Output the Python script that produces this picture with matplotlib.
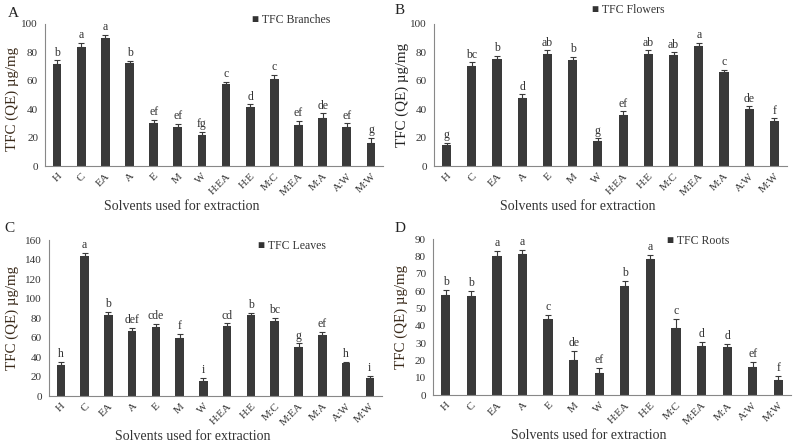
import matplotlib
matplotlib.use("Agg")
import matplotlib.pyplot as plt
import numpy as np

plt.rcParams['font.family'] = ['Liberation Serif', 'DejaVu Serif']

categories = ["H", "C", "EA", "A", "E", "M", "W", "H:EA", "H:E", "M:C", "M:EA", "M:A", "A:W", "M:W"]

branches = [72, 84, 90, 72.5, 30, 27.5, 22, 57.5, 41.5, 61.5, 29, 34, 27.5, 16.5]
branches_err = [2.5, 2.5, 2.5, 1.5, 2.5, 2, 2, 2, 2, 2.5, 3, 3, 2.5, 3.5]
branches_sig = ["b", "a", "a", "b", "ef", "ef", "fg", "c", "d", "c", "ef", "de", "ef", "g"]

flowers = [14.5, 70.5, 75.5, 48, 79, 74.5, 17.5, 36, 79, 78, 84.5, 66, 40.5, 31.5]
flowers_err = [2, 2.5, 2, 2.5, 2.5, 2.5, 2, 2.5, 2.5, 2, 2, 1.5, 1.5, 2]
flowers_sig = ["g", "bc", "b", "d", "ab", "b", "g", "ef", "ab", "ab", "a", "c", "de", "f"]

leaves = [32, 144, 83, 67, 71, 60, 15, 72, 83, 77, 50, 63, 34, 18]
leaves_err = [3, 3, 3, 3, 3, 4, 4, 2.5, 2.5, 3, 4, 3, 1, 3]
leaves_sig = ["h", "a", "b", "def", "cde", "f", "i", "cd", "b", "bc", "g", "ef", "h", "i"]

roots = [57.5, 57, 80.5, 81.5, 44, 20.5, 13, 63, 78.5, 39, 28.5, 27.5, 16, 8.5]
roots_err = [3, 3, 2.5, 2.5, 2.5, 5, 2.5, 3, 2.5, 5, 2, 2, 3, 2.5]
roots_sig = ["b", "b", "a", "a", "c", "de", "ef", "b", "a", "c", "d", "d", "ef", "f"]

panels = [
    dict(letter="A", vals=branches, err=branches_err, sig=branches_sig, label="TFC Branches",
         ymax=100, step=20, rect=[0.0567, 0.626, 0.4257, 0.320],
         letter_xy=(0.010, 0.985), leg=(0.318, 0.968), xlab_x=0.405, ylab=(-0.077, 0.47),
         ylab_color="#3a2a1a"),
    dict(letter="B", vals=flowers, err=flowers_err, sig=flowers_sig, label="TFC Flowers",
         ymax=100, step=20, rect=[0.5466, 0.626, 0.4446, 0.320],
         letter_xy=(0.497, 0.992), leg=(0.745, 0.990), xlab_x=0.408, ylab=(-0.071, 0.5),
         ylab_color="#222222"),
    dict(letter="C", vals=leaves, err=leaves_err, sig=leaves_sig, label="TFC Leaves",
         ymax=160, step=20, rect=[0.0617, 0.108, 0.419, 0.3514],
         letter_xy=(0.005, 0.500), leg=(0.325, 0.460), xlab_x=0.432, ylab=(-0.090, 0.5),
         ylab_color="#3a2a1a"),
    dict(letter="D", vals=roots, err=roots_err, sig=roots_sig, label="TFC Roots",
         ymax=90, step=10, rect=[0.5453, 0.110, 0.451, 0.3514],
         letter_xy=(0.497, 0.500), leg=(0.840, 0.470), xlab_x=0.436, ylab=(-0.070, 0.5),
         ylab_color="#3a2a1a"),
]

bar_color = "#3a3a3a"
text_color = "#333333"

fig = plt.figure(figsize=(7.94, 4.44), dpi=100)

for p in panels:
    ax = fig.add_axes(p["rect"])
    x = np.arange(len(categories))
    ax.bar(x, p["vals"], width=0.36, color=bar_color, zorder=2)
    ax.errorbar(x, p["vals"], yerr=[np.zeros(len(x)), p["err"]], fmt="none",
                ecolor=bar_color, elinewidth=0.8, capsize=2, capthick=0.8, zorder=3)
    off = p["ymax"] * 0.012
    for xi, v, e, s in zip(x, p["vals"], p["err"], p["sig"]):
        ax.text(xi, v + e + off, s, ha="center", va="bottom", fontsize=8.5, color=text_color)
    ax.set_xlim(-0.5, len(categories) - 0.5)
    ax.set_ylim(0, p["ymax"])
    ax.set_yticks(np.arange(0, p["ymax"] + 1, p["step"]))
    ax.set_xticks(x)
    ax.set_xticklabels(categories, rotation=45, ha="right", rotation_mode="anchor", fontsize=8)
    ax.tick_params(axis="y", labelsize=8, length=0, colors=text_color, pad=5)
    ax.tick_params(axis="x", length=0, colors=text_color, pad=4)
    for side in ["top", "right"]:
        ax.spines[side].set_visible(False)
    for side in ["left", "bottom"]:
        ax.spines[side].set_color("#888888")
        ax.spines[side].set_linewidth(0.8)
    ax.set_ylabel("TFC (QE) µg/mg", fontsize=10.8, color=p["ylab_color"])
    ax.yaxis.set_label_coords(*p["ylab"])
    ax.set_xlabel("Solvents used for extraction", fontsize=10, color=text_color, labelpad=2,
                  x=p["xlab_x"])
    fig.text(p["letter_xy"][0], p["letter_xy"][1], p["letter"], fontsize=11, va="top", ha="left",
             color="#222222")
    fig.text(p["leg"][0], p["leg"][1], "\u25a0 " + p["label"], fontsize=8.5, va="top", ha="left",
             color=text_color)

fig.savefig("out.png", dpi=100)
